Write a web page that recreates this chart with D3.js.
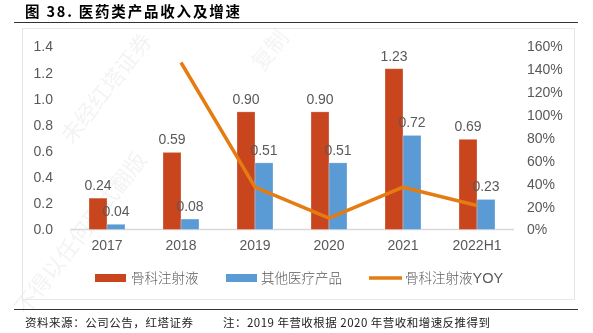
<!DOCTYPE html>
<html>
<head>
<meta charset="utf-8">
<script src="https://cdn.jsdelivr.net/npm/d3@7"></script>
<style>
  body { margin: 0; background: #fff; }
  svg { display: block; }
</style>
</head>
<body>
<div id="chart"></div>
<script>
// data
let years = ["2017", "2018", "2019", "2020", "2021", "2022H1"];
let injection = [0.24, 0.59, 0.90, 0.90, 1.23, 0.69];       // 骨科注射液
let otherProducts = [0.04, 0.08, 0.51, 0.51, 0.72, 0.23];   // 其他医疗产品
let injectionYoy = [null, 1.46, 0.37, 0.10, 0.37, 0.21];    // 骨科注射液YOY
let leftTicks = [0, 0.2, 0.4, 0.6, 0.8, 1.0, 1.2, 1.4];
let rightTicks = [0, 0.2, 0.4, 0.6, 0.8, 1.0, 1.2, 1.4, 1.6];
let seriesNames = ["骨科注射液", "其他医疗产品", "骨科注射液"];

let W = 593, H = 333;
let red = "#C8451E", blue = "#5B9BD5", orange = "#E57C12", grey = "#595959";
let numFont = "'Liberation Sans', Arial, sans-serif";
let cjkFont = "'Noto Sans CJK SC', sans-serif";

let svg = d3.select("#chart").append("svg")
  .attr("width", W).attr("height", H);

// faint watermark
let wm = svg.append("g").attr("fill", "#000").attr("opacity", 0.05)
  .style("font-family", cjkFont).style("font-size", "22px");
wm.append("text").attr("transform", "translate(72,145) rotate(-52)").text("未经红塔证券");
wm.append("text").attr("transform", "translate(262,72) rotate(-52)").text("复制");
wm.append("text").attr("transform", "translate(26,316) rotate(-52)").text("不得以任何形式翻版");

// title and rules
svg.append("text").attr("x", 25).attr("y", 16.5)
  .attr("textLength", 215).attr("lengthAdjust", "spacing")
  .style("font-family", cjkFont).style("font-weight", "bold").style("font-size", "14.5px")
  .attr("fill", "#000").text("图 38. 医药类产品收入及增速");
svg.append("line").attr("x1", 14).attr("x2", 578).attr("y1", 22.5).attr("y2", 22.5)
  .attr("stroke", "#333").attr("stroke-width", 1);
svg.append("rect").attr("x", 22.5).attr("y", 28.5).attr("width", 552).attr("height", 271)
  .attr("fill", "none").attr("stroke", "#E6E6E6").attr("stroke-width", 1);
svg.append("line").attr("x1", 14).attr("x2", 578).attr("y1", 309.5).attr("y2", 309.5)
  .attr("stroke", "#333").attr("stroke-width", 1);

// scales
let x = d3.scaleBand().domain(years).range([70, 514]);
let inner = d3.scaleBand().domain([0, 1]).range([-18, 18]);
let y = d3.scaleLinear().domain([0, 1.4]).range([229.5, 46.5]);
let y2 = d3.scaleLinear().domain([0, 1.6]).range([229.5, 46.5]);

// axes
let leftAxis = svg.append("g").attr("transform", "translate(53,0)")
  .call(d3.axisLeft(y).tickValues(leftTicks).tickFormat(d3.format(".1f")).tickSize(0).tickPadding(0));
let rightAxis = svg.append("g").attr("transform", "translate(527,0)")
  .call(d3.axisRight(y2).tickValues(rightTicks).tickFormat(d3.format(".0%")).tickSize(0).tickPadding(0));
let bottomAxis = svg.append("g").attr("transform", "translate(0,229.5)")
  .call(d3.axisBottom(x).tickSize(0).tickPadding(11));
[leftAxis, rightAxis, bottomAxis].forEach(function(g) {
  g.select(".domain").remove();
  g.selectAll("text").attr("fill", grey)
    .style("font-family", numFont).style("font-size", "14px");
});
svg.append("line").attr("x1", x.range()[0]).attr("x2", x.range()[1])
  .attr("y1", y(0)).attr("y2", y(0)).attr("stroke", "#D9D9D9").attr("stroke-width", 1.5);

// bars
let groups = [injection, otherProducts];
let colors = [red, blue];
groups.forEach(function(vals, i) {
  let bars = svg.append("g");
  bars.selectAll("rect").data(vals).enter().append("rect")
    .attr("x", function(d, j) { return x(years[j]) + x.bandwidth() / 2 + inner(i); })
    .attr("y", function(d) { return y(d); })
    .attr("width", inner.bandwidth())
    .attr("height", function(d) { return y(0) - y(d); })
    .attr("fill", colors[i])
    .attr("stroke", "rgba(255,255,255,0.35)").attr("stroke-width", 0.8);
  bars.selectAll("text").data(vals).enter().append("text")
    .attr("x", function(d, j) { return x(years[j]) + x.bandwidth() / 2 + inner(i) + inner.bandwidth() / 2; })
    .attr("y", function(d) { return y(d) - 8; })
    .attr("text-anchor", "middle")
    .attr("fill", grey)
    .style("font-family", numFont).style("font-size", "14px")
    .text(function(d) { return d.toFixed(2); });
});

// YOY line
let line = d3.line()
  .defined(function(d) { return d != null; })
  .x(function(d, j) { return x(years[j]) + x.bandwidth() / 2; })
  .y(function(d) { return y2(d); });
svg.append("path").datum(injectionYoy)
  .attr("d", line)
  .attr("fill", "none")
  .attr("stroke", orange)
  .attr("stroke-width", 3.5)
  .attr("stroke-linejoin", "round");

// legend
let legendY = 278;
let legend = [
  { x: 95, type: "rect", color: red, tx: 131 },
  { x: 226, type: "rect", color: blue, tx: 261 },
  { x: 369, type: "line", color: orange, tx: 405 }
];
legend.forEach(function(l, i) {
  if (l.type === "rect") {
    svg.append("rect").attr("x", l.x).attr("y", legendY - 4).attr("width", 31).attr("height", 8)
      .attr("fill", l.color);
  } else {
    svg.append("line").attr("x1", l.x).attr("x2", l.x + 33).attr("y1", legendY).attr("y2", legendY)
      .attr("stroke", l.color).attr("stroke-width", 3.5);
  }
  let t = svg.append("text").attr("x", l.tx).attr("y", legendY + 5)
    .attr("fill", grey)
    .style("font-family", cjkFont).style("font-size", "13.5px").style("font-weight", 300)
    .text(seriesNames[i]);
  if (i === 2) {
    t.append("tspan").style("font-family", numFont).style("font-size", "14.5px")
      .style("font-weight", 400).text("YOY");
  }
});

// footer
svg.append("text").attr("x", 25).attr("y", 327)
  .attr("textLength", 168).attr("lengthAdjust", "spacing")
  .style("font-family", cjkFont).style("font-size", "11.5px").attr("fill", "#222")
  .text("资料来源：公司公告，红塔证券");
svg.append("text").attr("x", 223).attr("y", 327)
  .attr("textLength", 267).attr("lengthAdjust", "spacing")
  .style("font-family", cjkFont).style("font-size", "11.5px").attr("fill", "#222")
  .text("注：2019 年营收根据 2020 年营收和增速反推得到");
</script>
</body>
</html>
